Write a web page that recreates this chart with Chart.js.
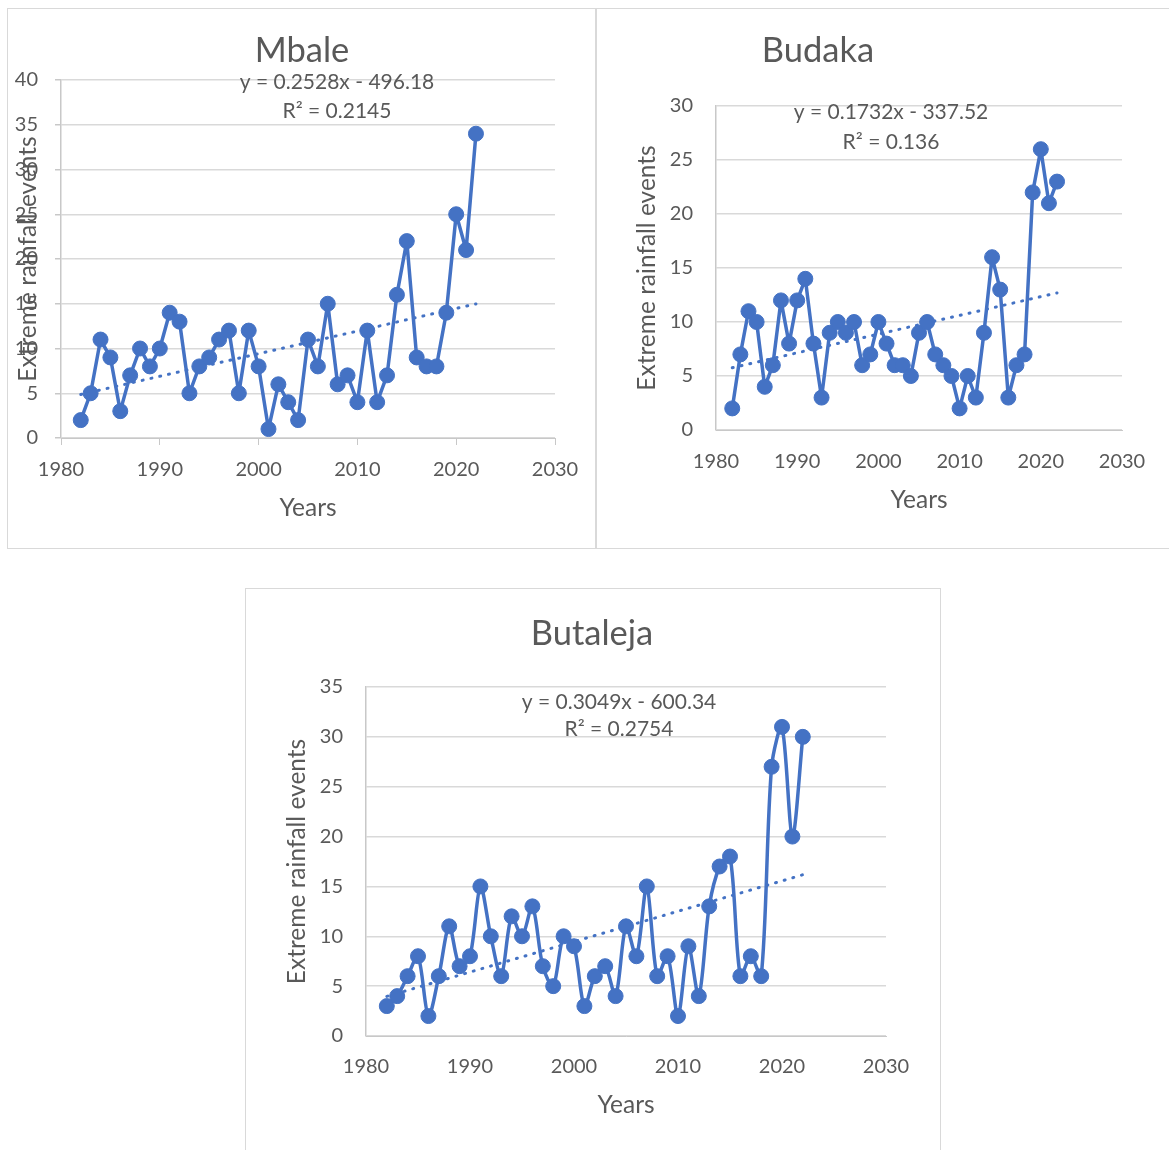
<!DOCTYPE html>
<html>
<head>
<meta charset="utf-8">
<script src="https://cdn.jsdelivr.net/npm/chart.js@4.4.1/dist/chart.umd.min.js"></script>
<style>
  body { margin: 0; background: #fff; width: 1169px; height: 1150px; overflow: hidden; position: relative; }
  .panel { position: absolute; border: 1px solid #d9d9d9; box-sizing: border-box; }
  canvas { position: absolute; }
</style>
</head>
<body>
<div class="panel" style="left:7px;top:8px;width:589px;height:541px"></div>
<div class="panel" style="left:596px;top:8px;width:600px;height:541px"></div>
<div class="panel" style="left:245px;top:588px;width:696px;height:600px"></div>
<canvas id="mbale" width="588" height="540" style="left:7px;top:8px"></canvas>
<canvas id="budaka" width="572" height="540" style="left:597px;top:8px"></canvas>
<canvas id="butaleja" width="694" height="562" style="left:246px;top:588px"></canvas>
<script>
// years on the x axis
var years = [1982, 1983, 1984, 1985, 1986, 1987, 1988, 1989, 1990, 1991,
             1992, 1993, 1994, 1995, 1996, 1997, 1998, 1999, 2000, 2001,
             2002, 2003, 2004, 2005, 2006, 2007, 2008, 2009, 2010, 2011,
             2012, 2013, 2014, 2015, 2016, 2017, 2018, 2019, 2020, 2021, 2022];

// extreme rainfall events per year
var mbaleEvents = [2, 5, 11, 9, 3, 7, 10, 8, 10, 14,
                   13, 5, 8, 9, 11, 12, 5, 12, 8, 1,
                   6, 4, 2, 11, 8, 15, 6, 7, 4, 12,
                   4, 7, 16, 22, 9, 8, 8, 14, 25, 21, 34];
var budakaEvents = [2, 7, 11, 10, 4, 6, 12, 8, 12, 14,
                    8, 3, 9, 10, 9, 10, 6, 7, 10, 8,
                    6, 6, 5, 9, 10, 7, 6, 5, 2, 5,
                    3, 9, 16, 13, 3, 6, 7, 22, 26, 21, 23];
var butalejaEvents = [3, 4, 6, 8, 2, 6, 11, 7, 8, 15,
                      10, 6, 12, 10, 13, 7, 5, 10, 9, 3,
                      6, 7, 4, 11, 8, 15, 6, 8, 2, 9,
                      4, 13, 17, 18, 6, 8, 6, 27, 31, 20, 30];

// linear trendlines as printed on the charts: [slope, intercept, R²]
var mbaleTrend = [0.2528, -496.18, 0.2145];
var budakaTrend = [0.1732, -337.52, 0.136];
var butalejaTrend = [0.3049, -600.34, 0.2754];

var blue = '#4472C4';
var textGrey = '#595959';
var gridGrey = '#d9d9d9';
var axisGrey = '#c8c8c8';

// draws the chart title and the trendline equation
var panelText = {
  id: 'panelText',
  afterDraw: function(chart, args, opts) {
    var ctx = chart.ctx;
    ctx.save();
    ctx.fillStyle = textGrey;
    ctx.textAlign = 'center';
    ctx.textBaseline = 'middle';
    ctx.font = '34.5px Lato';
    ctx.fillText(opts.title, opts.titleX, opts.titleY);
    ctx.font = '21px Lato';
    ctx.fillText(opts.eq, opts.eqX, opts.eqY);
    ctx.fillText(opts.r2, opts.eqX, opts.eqY + opts.eqGap);
    ctx.restore();
  }
};

function makeChart(id, values, trend, s) {
  var points = years.map(function(yr, i) { return {x: yr, y: values[i]}; });
  var ends = [years[0], years[years.length - 1]];
  var trendPoints = ends.map(function(yr) { return {x: yr, y: trend[0] * yr + trend[1]}; });
  var eq = 'y = ' + trend[0] + 'x - ' + Math.abs(trend[1]);

  return new Chart(document.getElementById(id), {
    type: 'line',
    data: {
      datasets: [{
        data: points,
        borderColor: blue,
        backgroundColor: blue,
        borderWidth: 3.5,
        borderJoinStyle: 'round',
        pointRadius: 7.5,
        pointBorderWidth: 1,
        pointHoverRadius: 7.5,
        tension: s.tension
      }, {
        data: trendPoints,
        borderColor: blue,
        borderWidth: 3,
        borderDash: [1, 8],
        borderCapStyle: 'round',
        pointRadius: 0,
        fill: false
      }]
    },
    options: {
      responsive: false,
      animation: false,
      layout: { padding: { top: s.top, right: s.right, left: 0, bottom: 0 } },
      plugins: {
        legend: { display: false },
        tooltip: { enabled: false },
        panelText: {
          title: s.title, titleX: s.titleX, titleY: s.titleY,
          eq: eq, r2: 'R\u00B2 = ' + trend[2], eqX: s.eqX, eqY: s.eqY, eqGap: s.eqGap
        }
      },
      scales: {
        x: {
          type: 'linear',
          min: 1980,
          max: 2030,
          afterFit: function(scale) { scale.height = s.xHeight; },
          ticks: {
            stepSize: 10,
            color: textGrey,
            font: { family: 'Lato', size: 20 },
            padding: s.xPad,
            callback: function(v) { return String(v); }
          },
          grid: { drawOnChartArea: false, drawTicks: s.ticks, tickLength: 7, color: axisGrey },
          border: { display: true, color: axisGrey, width: 1 },
          title: {
            display: true, text: 'Years', color: textGrey,
            font: { family: 'Lato', size: 24.5 },
            padding: { top: 0, bottom: s.xTitlePad }
          }
        },
        y: {
          min: 0,
          max: s.yMax,
          afterFit: function(scale) { scale.width = s.yWidth; },
          ticks: {
            stepSize: 5,
            color: textGrey,
            font: { family: 'Lato', size: 20 },
            padding: s.yPad
          },
          grid: { color: gridGrey, lineWidth: 1.5, drawTicks: s.ticks, tickLength: 6, tickColor: axisGrey },
          border: { display: true, color: axisGrey, width: 1.5 },
          title: {
            display: true, text: 'Extreme rainfall events', color: textGrey,
            font: { family: 'Lato', size: 24.5 },
            padding: { top: s.yTitlePad, bottom: 0 }
          }
        }
      }
    },
    plugins: [panelText]
  });
}

makeChart('mbale', mbaleEvents, mbaleTrend, {
  title: 'Mbale', titleX: 295, titleY: 43, eqX: 330, eqY: 74, eqGap: 29,
  top: 72, right: 40, yWidth: 54, xHeight: 110, yMax: 40,
  ticks: true, xPad: 13, yPad: 17, yTitlePad: 6, xTitlePad: 25, tension: 0
});

makeChart('budaka', budakaEvents, budakaTrend, {
  title: 'Budaka', titleX: 221, titleY: 43, eqX: 294, eqY: 104, eqGap: 30,
  top: 98, right: 47, yWidth: 119, xHeight: 118, yMax: 30,
  ticks: false, xPad: 20, yPad: 23, yTitlePad: 35, xTitlePad: 33, tension: 0
});

makeChart('butaleja', butalejaEvents, butalejaTrend, {
  title: 'Butaleja', titleX: 346, titleY: 46, eqX: 373, eqY: 114, eqGap: 27,
  top: 99, right: 54, yWidth: 120, xHeight: 114, yMax: 35,
  ticks: false, xPad: 19, yPad: 23, yTitlePad: 36, xTitlePad: 30, tension: 0.3
});
</script>
</body>
</html>
